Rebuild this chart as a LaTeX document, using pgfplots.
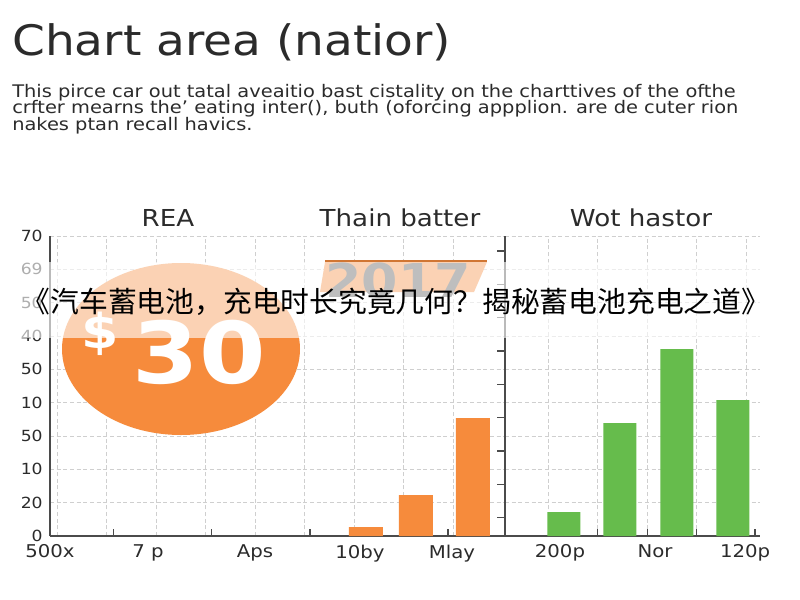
\documentclass[border=0pt]{standalone}
\usepackage{pgfplots}
\pgfplotsset{compat=1.18}
\usepackage{fontspec}
\setmainfont{DejaVu Sans}[FakeStretch=1.12]
\newfontfamily\cjk{Noto Sans CJK SC}

\definecolor{barorange}{HTML}{F68B3C}
\definecolor{bargreen}{HTML}{66BC4C}
\definecolor{txt}{HTML}{2B2B2B}
\definecolor{gridc}{HTML}{CFCFCF}
\definecolor{yeargray}{HTML}{555555}

% shared look of both panels (1px = 0.75pt)
\pgfplotsset{
  panel/.style={
    scale only axis, height=225pt,
    ymin=0, ymax=9, ytick={0,...,9},
    axis x line=bottom, axis y line=left,
    axis line style={-, line width=1.2pt, color=txt!85},
    ymajorgrids, xminorgrids,
    grid style={densely dashed, gridc, line width=0.6pt},
    minor grid style={densely dashed, gridc, line width=0.6pt},
    tick style={txt!85, line width=0.9pt},
    major tick length=0pt, minor tick length=0pt,
    ticklabel style={color=txt},
    /pgf/number format/assume math mode=true,
    yticklabel style={font=\fontsize{11.5}{12}\selectfont, xshift=-2pt},
    xticklabel style={font=\fontsize{13.2}{14}\selectfont, yshift=-3pt},
    ybar, bar shift=0pt,
  }
}

\begin{document}
\begin{tikzpicture}
\begin{scope}[x=0.75pt, y=-0.75pt]
  \fill[white] (0,0) rectangle (800,600);
\end{scope}

% left panel
\begin{axis}[panel,
    at={(37.5pt,-402pt)}, anchor=south west, width=341.25pt,
    xmin=-0.14, xmax=9.05,
    minor xtick={0,...,8},
    xtick={-0.14,1.84,4,6.12,7.98},
    xticklabels={500x, 7 p, Aps, 10by, Mlay},
    yticklabels={0,20,10,50,10,50,40,50,69,70},
    extra x ticks={1.15,3.13,5.11,7.9},
    extra x tick labels={},
    extra x tick style={grid=none, major tick length=5pt, tick align=inside},
]
  \addplot[fill=barorange, draw=none, bar width=25.5pt]
    coordinates {(6.24,0.27) (7.25,1.23) (8.40,3.54)};
\end{axis}

% right panel
\begin{axis}[panel,
    at={(378.75pt,-402pt)}, anchor=south west, width=191.25pt,
    xmin=-0.87, xmax=4.28,
    minor xtick={0,...,4},
    xtick={0.24,2.16,3.98},
    xticklabels={200p, Nor, 120p},
    yticklabels={},
    extra x ticks={1,2,3,4.18},
    extra x tick labels={},
    extra x tick style={grid=none, major tick length=5pt, tick align=inside},
    extra y ticks={0.55,1.55,2.55,3.55,4.55,5.55,6.55,7.55,8.55},
    extra y tick labels={},
    extra y tick style={grid=none, major tick length=6pt, tick align=outside},
]
  \addplot[fill=bargreen, draw=none, bar width=24.75pt]
    coordinates {(0.32,0.72) (1.45,3.39) (2.6,5.61) (3.73,4.08)};
\end{axis}

\begin{scope}[x=0.75pt, y=-0.75pt]
  % heading and blurb
  \node[anchor=base west, inner sep=0, color=txt,
        font=\fontsize{31.5}{32}\selectfont] at (12,55) {Chart area (natior)};
  \begin{scope}[every node/.style={anchor=base west, inner sep=0, color=txt,
        font=\fontsize{13}{13}\selectfont}]
    \node at (12,97) {This pirce car out tatal aveaitio bast cistality on the charttives of the ofthe};
    \node at (12,113) {crfter mearns the' eating inter(), buth (oforcing appplion. are de cuter rion};
    \node at (12,130) {nakes ptan recall havics.};
  \end{scope}

  % panel titles
  \begin{scope}[every node/.style={color=txt, font=\fontsize{17.5}{18}\selectfont}]
    \node at (168,218) {REA};
    \node at (400,218) {Thain batter};
    \node at (641,218) {Wot hastor};
  \end{scope}

  % price badge
  \fill[barorange] (181,349) ellipse [x radius=119, y radius=86];
  \node[white, font=\fontsize{64}{64}\selectfont\bfseries] at (199,352) {30};
  \node[white, font=\fontsize{36}{36}\selectfont\bfseries] at (100,334) {\$};

  % year ribbon
  \fill[barorange] (325,262) -- (487,262) -- (474,292) -- (320,292) -- cycle;
  \draw[barorange!85!black, line width=2pt] (325,261) -- (487,261);
  \node[yeargray, font=\fontsize{35}{35}\selectfont\bfseries] at (398,281) {2017};

  % overlay band with caption
  \fill[white, opacity=0.62] (0,262) rectangle (800,338);
  \node[black, font=\cjk\fontsize{21.6}{22}\selectfont] at (396,302)
    {《汽车蓄电池，充电时长究竟几何？揭秘蓄电池充电之道》};
\end{scope}
\end{tikzpicture}
\end{document}
